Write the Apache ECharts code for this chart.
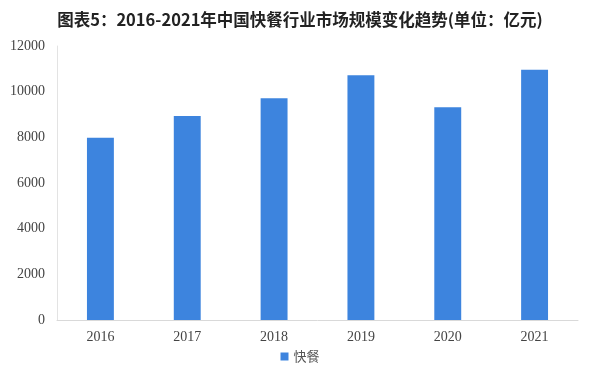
<!DOCTYPE html>
<html><head><meta charset="utf-8">
<script src="https://cdn.jsdelivr.net/npm/echarts@6/dist/echarts.min.js"></script>
<style>html,body{margin:0;padding:0;background:#fff}#c{width:600px;height:378px}</style>
</head><body><div id="c"></div>
<script>
const categories = ['2016','2017','2018','2019','2020','2021'];
const values = [7985, 8935, 9710, 10715, 9315, 10965];
const seriesName = '快餐';
const yTicks = {min:0, max:12000, interval:2000};

const chart = echarts.init(document.getElementById('c'));
chart.setOption({
  animation:false,
  backgroundColor:'#fff',
  title:{text:'图表5：2016-2021年中国快餐行业市场规模变化趋势(单位：亿元)', left:'center', top:6,
    textStyle:{fontFamily:'Noto Sans CJK SC', fontWeight:'bold', fontSize:16.5, color:'#222'}},
  legend:{bottom:10, left:'center', itemWidth:8, itemHeight:8, icon:'rect',
    textStyle:{fontFamily:'Noto Sans CJK SC', fontSize:13, color:'#555'}, data:[seriesName]},
  grid:{left:57, right:22, top:46, bottom:58},
  xAxis:{type:'category', data:categories,
    axisLine:{lineStyle:{color:'#d9d9d9'}}, axisTick:{show:false},
    axisLabel:{fontFamily:'Liberation Serif', fontSize:14, color:'#444', margin:10}},
  yAxis:{type:'value', min:yTicks.min, max:yTicks.max, interval:yTicks.interval,
    axisLine:{show:true, lineStyle:{color:'#e3e3e3'}}, axisTick:{show:false},
    splitLine:{show:false},
    axisLabel:{fontFamily:'Liberation Serif', fontSize:14, color:'#444', margin:12,
      formatter:function(v){return String(v);}}},
  series:[{name:seriesName, type:'bar', data:values, barWidth:'31%',
    itemStyle:{color:'#3d84de'}}]
});
</script></body></html>
